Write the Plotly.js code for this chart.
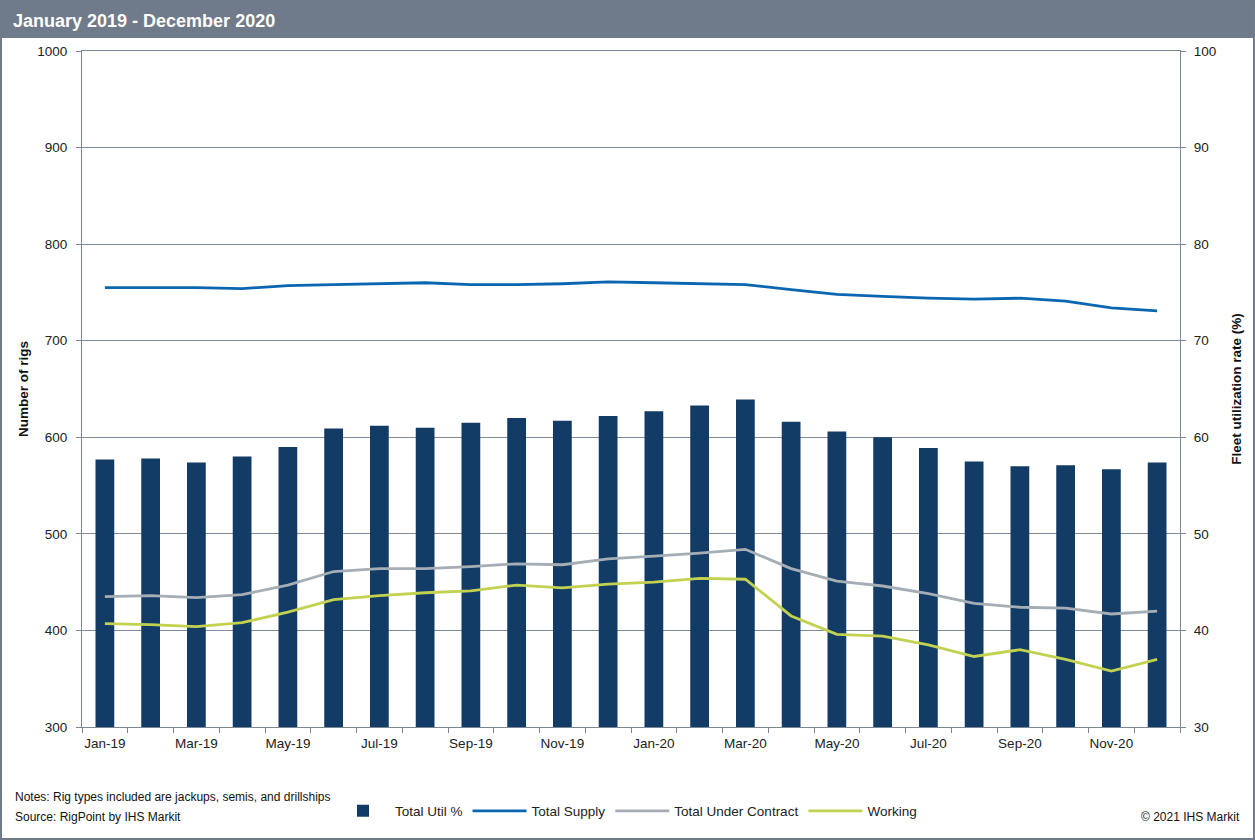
<!DOCTYPE html>
<html>
<head>
<meta charset="utf-8">
<script src="https://cdn.plot.ly/plotly-3.0.1.min.js"></script>
<style>
  html, body { margin: 0; padding: 0; background: #ffffff; }
  #chart { width: 1255px; height: 840px; }
</style>
</head>
<body>
<div id="chart"></div>
<script>
const months = ["Jan-19","Feb-19","Mar-19","Apr-19","May-19","Jun-19","Jul-19","Aug-19","Sep-19","Oct-19","Nov-19","Dec-19",
                "Jan-20","Feb-20","Mar-20","Apr-20","May-20","Jun-20","Jul-20","Aug-20","Sep-20","Oct-20","Nov-20","Dec-20"];
const tickLabels = ["Jan-19","","Mar-19","","May-19","","Jul-19","","Sep-19","","Nov-19","",
                    "Jan-20","","Mar-20","","May-20","","Jul-20","","Sep-20","","Nov-20",""];
const totalUtil = [57.7,57.8,57.4,58.0,59.0,60.9,61.2,61.0,61.5,62.0,61.7,62.2,
                   62.7,63.3,63.9,61.6,60.6,60.0,58.9,57.5,57.0,57.1,56.7,57.4];
const totalSupply = [755,755,755,754,757,758,759,760,758,758,759,761,
                     760,759,758,753,748,746,744,743,744,741,734,731];
const underContract = [435,436,434,437,447,461,464,464,466,469,468,474,
                       477,480,484,464,451,446,438,428,424,423,417,420];
const working = [407,406,404,408,419,432,436,439,441,447,444,448,
                 450,454,453,415,396,394,385,373,380,370,358,370];

const FONT = "Arial, 'Liberation Sans', sans-serif";
const AXIS_COL = "#7b8794";

const traces = [
  { type: "bar", name: "Total Util %", x: months, y: totalUtil, yaxis: "y",
    marker: { color: "#123b66" } },
  { type: "scatter", mode: "lines", name: "Total Supply", x: months, y: totalSupply, yaxis: "y2",
    line: { color: "#0b66b2", width: 2.8 } },
  { type: "scatter", mode: "lines", name: "Total Under Contract", x: months, y: underContract, yaxis: "y2",
    line: { color: "#a5adb5", width: 2.8 } },
  { type: "scatter", mode: "lines", name: "Working", x: months, y: working, yaxis: "y2",
    line: { color: "#c2d250", width: 2.8 } }
];

// plot area in pixels: x 82..1180, y 51..727
const L = 82, R = 1180, T = 51, B = 727;
const px = v => (v - L) / (R - L);
const py = v => (B - v) / (B - T);

const layout = {
  width: 1255, height: 840,
  margin: { l: L, r: 1255 - R, t: T, b: 840 - B, pad: 0 },
  paper_bgcolor: "#ffffff", plot_bgcolor: "#ffffff",
  font: { family: FONT, size: 13, color: "#222222" },
  showlegend: true,
  bargap: 0.59,
  title: { text: "<b>January 2019 - December 2020</b>", xref: "container", yref: "container",
           x: 13 / 1255, xanchor: "left", y: 1 - 21 / 840, yanchor: "middle",
           font: { family: FONT, size: 18, color: "#ffffff" } },
  xaxis: { type: "category", tickmode: "array", tickvals: months, ticktext: tickLabels,
           tickson: "boundaries", ticks: "outside", ticklen: 5, tickcolor: AXIS_COL,
           showline: true, linecolor: AXIS_COL, linewidth: 1, mirror: true,
           showgrid: false, tickangle: 0, tickfont: { size: 13.5, color: "#222222" },
           ticklabelstandoff: 4, range: [-0.5, 23.5] },
  yaxis: { side: "right", range: [30, 100], dtick: 10, tick0: 30,
           ticks: "outside", ticklen: 5, tickcolor: AXIS_COL,
           showline: true, linecolor: AXIS_COL, linewidth: 1,
           showgrid: true, gridcolor: "#7f8b98", gridwidth: 1, zeroline: false,
           tickfont: { size: 13.5, color: "#222222" }, ticklabelstandoff: 5,
           title: { text: "<b>Fleet utilization rate (%)</b>", font: { size: 13.5, color: "#111111" }, standoff: 16 } },
  yaxis2: { overlaying: "y", side: "left", range: [300, 1000], dtick: 100, tick0: 300,
            ticks: "outside", ticklen: 5, tickcolor: AXIS_COL,
            showline: true, linecolor: AXIS_COL, linewidth: 1,
            showgrid: false, zeroline: false,
            tickfont: { size: 13.5, color: "#222222" }, ticklabelstandoff: 6,
            title: { text: "<b>Number of rigs</b>", font: { size: 13.5, color: "#111111" }, standoff: 5 } },
  legend: { orientation: "h", x: px(331), xanchor: "left", y: py(811), yanchor: "middle",
            font: { size: 13.5, color: "#222222" }, itemwidth: 54, tracegroupgap: 0,
            bgcolor: "rgba(0,0,0,0)" },
  shapes: [
    { type: "rect", xref: "paper", yref: "paper", x0: px(1), x1: px(1254), y0: py(839), y1: py(1),
      line: { color: "#707c8a", width: 2 }, fillcolor: "rgba(0,0,0,0)", layer: "below" },
    { type: "rect", xref: "paper", yref: "paper", x0: px(2), x1: px(1253), y0: py(38), y1: py(2),
      line: { width: 0 }, fillcolor: "#6f7b8b", layer: "below" }
  ],
  annotations: [
    { xref: "paper", yref: "paper", x: px(13), y: py(797), xanchor: "left", yanchor: "middle",
      text: "Notes: Rig types included are jackups, semis, and drillships", showarrow: false,
      font: { size: 12, color: "#111111" } },
    { xref: "paper", yref: "paper", x: px(13), y: py(817), xanchor: "left", yanchor: "middle",
      text: "Source: RigPoint by IHS Markit", showarrow: false,
      font: { size: 12, color: "#111111" } },
    { xref: "paper", yref: "paper", x: px(1242), y: py(817), xanchor: "right", yanchor: "middle",
      text: "© 2021 IHS Markit", showarrow: false,
      font: { size: 12, color: "#111111" } }
  ]
};

Plotly.newPlot("chart", traces, layout, { displayModeBar: false, staticPlot: true });
</script>
</body>
</html>
